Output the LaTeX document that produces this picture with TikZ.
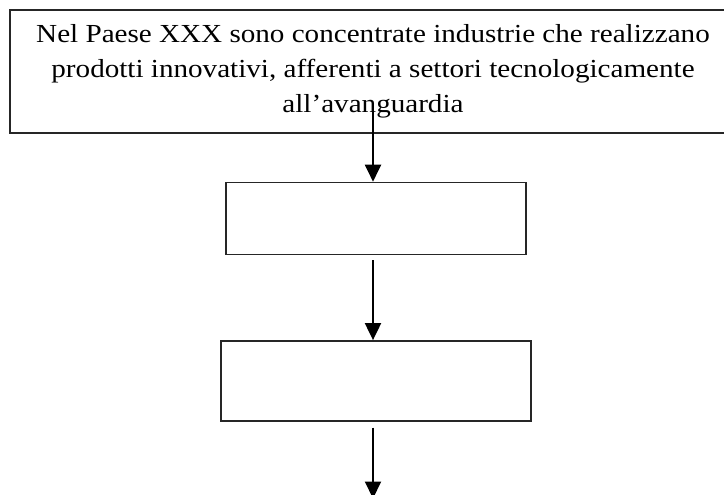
\documentclass[tikz,border=0pt]{standalone}
\usepackage{fontspec}
\setmainfont[FakeStretch=1.12]{Liberation Serif}
\usetikzlibrary{positioning,arrows.meta}
\tikzset{
  >={Triangle[length=8.5bp,width=8bp]},
  riquadro/.style={draw=black!85,line width=0.7bp,inner sep=0pt},
  freccia/.style={->,line width=1bp},
  testo/.style={font=\fontsize{13bp}{17.5bp}\selectfont,align=center},
}
\begin{document}
\begin{tikzpicture}
  \useasboundingbox (0,0) rectangle (362bp,-247.5bp);
  \node[riquadro,testo,minimum width=363bp,minimum height=61.5bp]
    (paese) at (186.5bp,-35.75bp)
    {Nel Paese XXX sono concentrate industrie che realizzano\\
     prodotti innovativi, afferenti a settori tecnologicamente\\
     all’avanguardia};
  \node[riquadro,minimum width=150bp,minimum height=36bp,
    below=24bp of paese.south,xshift=1.5bp] (passo1) {};
  \node[riquadro,minimum width=155bp,minimum height=40bp,
    below=42.5bp of passo1] (passo2) {};
  \coordinate[below=38.5bp of passo2.south -| paese.south] (fine);
  \draw[freccia] ([yshift=14.5bp]paese.south) -- (paese.south |- passo1.north);
  \draw[freccia,shorten <=2.5bp] (passo1.south -| paese.south)
    -- (paese.south |- passo2.north);
  \draw[freccia,shorten <=3bp] (passo2.south -| paese.south) -- (fine);
\end{tikzpicture}
\end{document}
